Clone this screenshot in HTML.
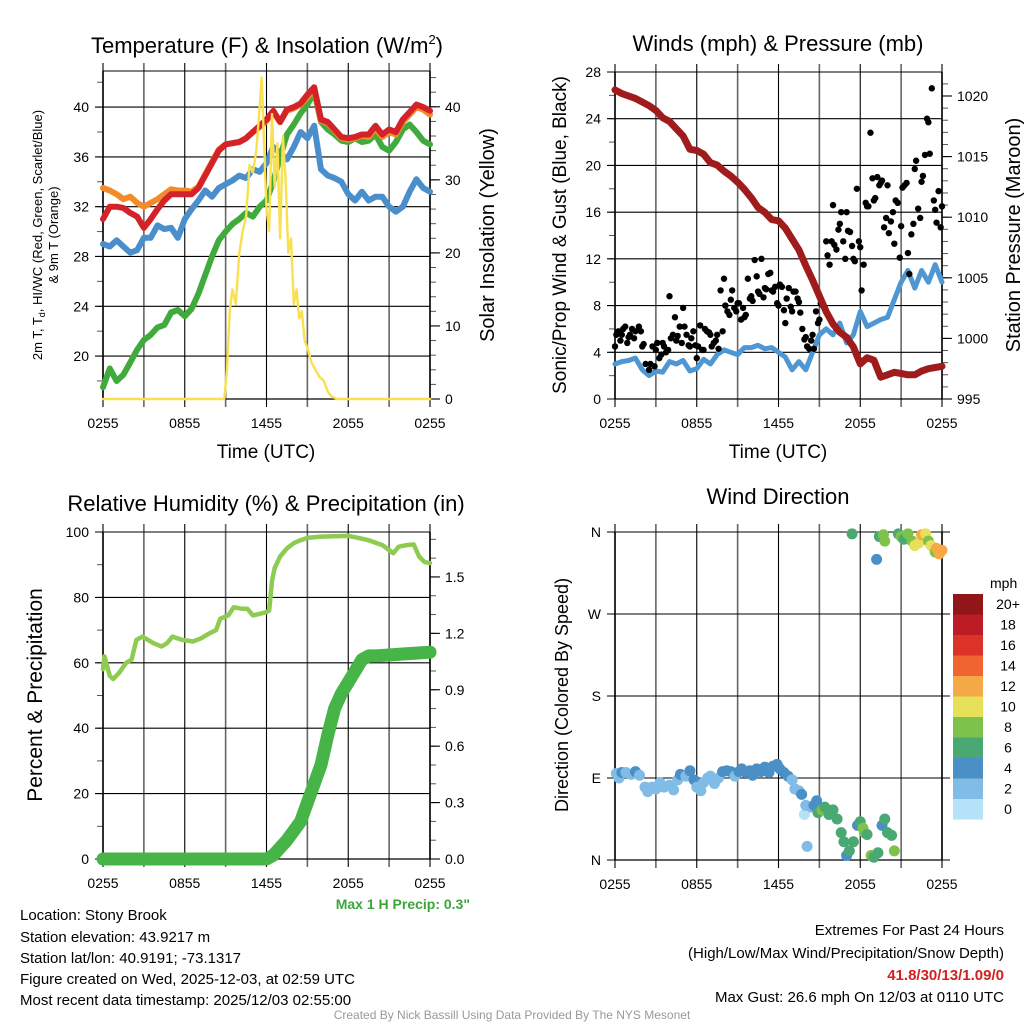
<!DOCTYPE html>
<html><head><meta charset="utf-8"><style>
body{margin:0;background:#fff;}
svg{display:block;font-family:"Liberation Sans",sans-serif;}
</style></head><body>
<svg id="root" width="1024" height="1024" viewBox="0 0 1024 1024">
<rect width="1024" height="1024" fill="#fff"/>
<text x="267" y="53" font-size="22" text-anchor="middle">Temperature (F) &amp; Insolation (W/m<tspan font-size="13" dy="-9">2</tspan><tspan dy="9">)</tspan></text>
<text x="778" y="51" font-size="22" text-anchor="middle">Winds (mph) &amp; Pressure (mb)</text>
<text x="266" y="511" font-size="22" text-anchor="middle">Relative Humidity (%) &amp; Precipitation (in)</text>
<text x="778" y="504" font-size="22" text-anchor="middle">Wind Direction</text>
<text x="266" y="458" font-size="19" text-anchor="middle">Time (UTC)</text>
<text x="778" y="458" font-size="19" text-anchor="middle">Time (UTC)</text>
<text transform="translate(42,235) rotate(-90)" font-size="13" text-anchor="middle">2m T, T<tspan font-size="9" dy="3">d</tspan><tspan dy="-3">, HI/WC (Red, Green, Scarlet/Blue)</tspan></text>
<text transform="translate(58,235) rotate(-90)" font-size="13" text-anchor="middle">&amp; 9m T (Orange)</text>
<text transform="translate(494,235) rotate(-90)" font-size="20" text-anchor="middle">Solar Insolation (Yellow)</text>
<text transform="translate(566,235) rotate(-90)" font-size="19" text-anchor="middle">Sonic/Prop Wind &amp; Gust (Blue, Black)</text>
<text transform="translate(1020,235) rotate(-90)" font-size="20" text-anchor="middle">Station Pressure (Maroon)</text>
<text transform="translate(42,695) rotate(-90)" font-size="21" text-anchor="middle">Percent &amp; Precipitation</text>
<text transform="translate(568,695) rotate(-90)" font-size="18" text-anchor="middle">Direction (Colored By Speed)</text>
<text x="470" y="909" font-size="14" font-weight="bold" fill="#3aa63a" text-anchor="end">Max 1 H Precip: 0.3"</text>
<g font-size="15">
<text x="20" y="920">Location: Stony Brook</text>
<text x="20" y="942">Station elevation: 43.9217 m</text>
<text x="20" y="963">Station lat/lon: 40.9191; -73.1317</text>
<text x="20" y="984">Figure created on Wed, 2025-12-03, at 02:59 UTC</text>
<text x="20" y="1005">Most recent data timestamp: 2025/12/03 02:55:00</text>
</g>
<g font-size="15" text-anchor="end">
<text x="1004" y="935">Extremes For Past 24 Hours</text>
<text x="1004" y="958">(High/Low/Max Wind/Precipitation/Snow Depth)</text>
<text x="1004" y="980" font-weight="bold" fill="#d42020">41.8/30/13/1.09/0</text>
<text x="1004" y="1002">Max Gust: 26.6 mph On 12/03 at 0110 UTC</text>
</g>
<text x="512" y="1019" font-size="12" fill="#999" text-anchor="middle">Created By Nick Bassill Using Data Provided By The NYS Mesonet</text>
</svg>
<script>
// ---- data ----
const hoursHalf=[0,0.5,1,1.5,2,2.5,3,3.5,4,4.5,5,5.5,6,6.5,7,7.5,8,8.5,9,9.5,10,10.5,11,11.5,12,12.5,13,13.5,14,14.5,15,15.5,16,16.5,17,17.5,18,18.5,19,19.5,20,20.5,21,21.5,22,22.5,23,23.5,24];
const tempRed=[31,32,32,31.9,31.5,31.2,30.3,31,31.8,32.5,33,33,33,33,33.5,34.5,35.5,36.5,37,37.1,37.2,37.5,38,38.5,39,39.7,38.8,39.8,40,40.3,41,41.6,39,38.8,38.2,37.6,37.5,37.6,37.8,37.8,38.5,37.8,38.2,38,39,39.6,40.2,40,39.7];
const tempOrange=[33.5,33.3,33,32.6,32.8,32.3,32,32.3,32.6,33,33.4,33.3,33.3,33.2,33.6,34.6,35.6,36.6,37,37.1,37.2,37.5,38,38.4,38.9,39.6,38.8,39.7,39.9,40.2,40.8,41.4,38.9,38.7,38.1,37.5,37.4,37.5,37.7,37.6,38.3,37.6,38,37.8,38.8,39.4,40,39.8,39.4];
const tempDew=[17.5,19,18,18.5,19.5,20.5,21.3,21.7,22.3,22.5,23.5,23.7,23.2,23.8,25,26.5,28,29.3,30,30.6,31,31.5,31.2,32,32.5,34,36,37.8,38.6,39.5,40.2,41.2,38.8,38.2,37.8,37.3,37.2,37.5,37.2,37.3,37.8,36.8,36.5,37.2,38.2,38.6,38,37.3,37];
const tempBlue=[29,28.8,29.3,28.8,28.3,28.5,29.5,29.5,30.5,30.2,30.3,29.5,31,31.8,32.5,33.3,32.8,33.5,33.8,34.1,34.5,34.3,35,34.8,35.5,36.8,36.3,35.8,36.8,38,37.5,38.5,35,34.5,34.3,34,33,32.5,33.2,32.5,32.8,32.8,32,31.6,32,33.2,34.2,33.5,33.2];
const solarHours=[0,8.9,9.1,9.3,9.5,9.75,10,10.25,10.5,10.75,11,11.25,11.5,11.65,11.8,12,12.2,12.4,12.6,12.8,13,13.2,13.4,13.6,13.8,14,14.2,14.4,14.6,14.8,15,15.3,15.6,15.9,16.2,16.5,16.8,17.2,24];
const solarVals=[0,0,4,12,15,13,20,23,25,32,31,34,40,44,36,26,23,39,29,35,22,36,30,20,22,13,15,11,12,8,7,5,4,3,2.5,1,0.3,0,0];
const pressure=[1020.5,1020.2,1020,1019.8,1019.5,1019.2,1018.8,1018.2,1017.9,1017.3,1016.7,1015.6,1015.5,1015.2,1014.5,1014.3,1013.8,1013.4,1012.9,1012.3,1011.6,1010.8,1010.4,1009.8,1009.7,1009.1,1008.2,1007.3,1006,1004.8,1003.5,1002.2,1001.2,1000.5,1000.1,999.3,997.9,998.4,998.2,996.8,997,997.2,997.1,997,997,997.3,997.5,997.6,997.7];
const windSpeed=[3,3.2,3.3,3.5,2.5,2,2.4,2.3,3.2,3,3.3,2.4,2.6,3.4,3,3.8,4.2,4,3.8,4.4,4.4,4.6,4.3,4.4,4,3.6,2.5,3.2,2.5,4,5.5,6,5.5,6.5,4.8,5.5,7.5,6.2,6.5,6.8,7,8.5,10,11,9.5,11,10,11.5,10];
const gustHours=[0,0.25,0.5,0.75,1,1.25,1.5,1.75,2,2.25,2.5,2.75,3,3.25,3.5,3.75,4,4.25,4.5,4.75,5,5.25,5.5,5.75,6,6.25,6.5,6.75,7,7.25,7.5,7.75,8,8.25,8.5,8.75,9,9.25,9.5,9.75,10,10.25,10.5,10.75,11,11.25,11.5,11.75,12,12.25,12.5,12.75,13,13.25,13.5,13.75,14,14.25,14.5,14.75,15,15.25,15.5,15.75,16,16.25,16.5,16.75,17,17.25,17.5,17.75,18,18.25,18.5,18.75,19,19.25,19.5,19.75,20,20.25,20.5,20.75,21,21.25,21.5,21.75,22,22.25,22.5,22.75,23,23.25,23.5,23.75,24];
const gustVals=[4.5,5.8,5.5,6.2,5.3,6,5.8,6.2,4.5,3,2.5,4.5,4.2,3.5,4.8,4,8.8,5.5,5,6.2,7.8,5.5,4.5,5.8,3.5,6.3,4.2,5.8,5.5,4.8,5.5,9.3,10.3,7.5,8.5,7.8,8.2,6.8,7,10.3,8.8,11.9,9.2,12,9.5,10.7,9.3,9.6,8,9.6,6.5,9.5,7.5,9.2,8.3,6,5.3,4.3,5.5,7.5,6.8,8,13.5,11.5,16.6,12.8,15,13.5,16,14.3,12,18,13,11.5,16.5,22.8,17,19,18.5,14.7,18.3,15.2,13.3,16.8,14.8,18.3,12.5,14.1,19.7,16.3,18.6,20.9,23.7,26.6,16.2,17.8,16.5];
const gustHours2=[0.1,0.4,0.6,0.9,1.1,1.4,1.9,2.1,2.6,2.9,3.1,3.4,3.6,3.9,4.1,4.4,4.6,4.9,5.1,5.4,5.6,5.9,6.1,6.4,6.6,6.9,7.1,7.4,7.6,7.9,8.1,8.4,8.6,8.9,9.1,9.4,9.6,9.9,10.1,10.4,10.6,10.9,11.1,11.4,11.6,11.9,12.1,12.4,12.6,12.9,13.1,13.4,13.6,13.9,14.1,14.4,14.6,14.9,15.1,15.4,15.6,15.9,16.1,16.4,16.6,16.9,17.1,17.4,17.6,17.9,18.1,18.4,18.6,18.9,19.1,19.4,19.6,19.9,20.1,20.4,20.6,20.9,21.1,21.4,21.6,21.9,22.1,22.4,22.6,22.9,23.1,23.4,23.6,23.9];
const gustVals2=[5.5,5,6,4.8,5.5,5.2,5.8,4.7,3,2.8,4.8,3.8,4.5,4.2,5.2,7,5.4,4.8,6.2,4.6,5.2,4.6,4.5,4.2,6,5.7,4.5,5,4.3,5.8,8,7.2,9.3,7.5,8.2,7.8,7.2,8.6,8.4,10.5,9,8.7,9.4,10.8,9.2,8.2,9.8,7.6,8.6,7.9,9.2,8.6,7.4,5.1,4.5,5,4.3,6.5,8.2,7.8,12.3,13.5,13.2,14.5,16,12,14.4,13.1,11.8,13.5,9.3,16.8,16.5,18.9,17.2,18.3,18.7,15.5,14.2,16,17,12.1,18.1,18.5,10.7,15,20.4,15.5,19.1,24,21,17,15.1,14.7];
const rhHours=[0,0.1,0.5,0.75,1.2,1.7,2.1,2.45,2.9,3.3,3.7,4.3,4.7,5.1,5.8,6.6,7.2,7.8,8.3,8.6,9.2,9.6,10.2,10.6,11,11.5,12,12.2,12.4,12.6,13,13.5,14,14.5,15,16,17,18,18.5,19.5,20.5,21,21.3,21.7,22.3,22.8,23.2,23.6,24];
const rhVals=[58,62,56,55,57,60,61,67,68,67,66,65,66,68,67,66.5,67.5,69,70,73.5,74.5,77,76.5,76.5,74.5,75,75.5,76,85,89,92.5,95,96.6,97.5,98.2,98.6,98.7,98.8,98.4,97.5,96,94.5,93.5,95.5,96,96.2,92.5,90.8,90.5];
const precipHours=[0,12,12.5,13,13.5,14,14.5,15,15.5,16,16.5,17,17.5,18,18.5,19,19.5,20,21,22,23,24];
const precipVals=[0,0,0.02,0.06,0.1,0.15,0.2,0.3,0.4,0.5,0.66,0.8,0.88,0.94,1.0,1.06,1.08,1.08,1.085,1.09,1.095,1.1];
const dirHours=[0.1,0.3,0.5,0.8,1.2,1.5,1.8,2.2,2.4,2.7,3,3.3,3.6,4,4.3,4.6,4.8,5.2,5.5,5.8,6,6.3,6.5,6.8,7,7.3,7.6,7.9,8.2,8.5,8.8,9.1,9.3,9.6,9.9,10.1,10.4,10.7,11,11.3,11.6,11.9,12.1,12.4,12.7,13,13.2,13.5,13.7,13.9,14,14.1,14.4,14.6,14.8,14.9,15.2,15.4,15.7,16,16.3,16.6,16.8,17,17.2,17.5,17.8,18,18.2,18.3,18.5,18.8,19,19.3,19.6,19.8,20,20.3,20.5,17.4,19.2,19.4,19.7,19.8,20.8,21,21.2,21.5,21.8,22,22.3,22.5,22.8,23,23.2,23.5,23.8,24,23.6];
const dirVals=[95,90,96,96,94,97,93,80,75,80,78,85,80,82,77,88,94,92,98,88,80,76,85,90,92,84,90,97,98,97,92,97,100,96,98,93,100,97,102,96,103,105,100,96,92,88,78,76,72,50,60,15,58,60,65,52,55,58,50,55,45,30,20,5,10,20,38,42,35,30,28,5,3,8,38,45,30,27,10,358,330,355,357,350,358,355,352,358,350,345,348,357,358,350,345,338,336,340,342];
const dirSpeeds=[3,3,4,3,3,4,3,2,2,2,2,2,2,3,2,3,4,3,4,4,2,2,3,2,3,2,3,4,4,4,3,4,4,4,4,4,4,4,4,4,4,4,4,4,4,3,2,2,4,0,2,2,2,4,4,6,8,6,6,7,6,6,6,4,6,6,4,6,8,8,6,8,6,6,4,6,6,6,8,6,4,6,8,8,6,8,6,8,8,10,10,12,10,8,10,8,12,12,12];
const speedLabels=["0","2","4","6","8","10","12","14","16","18","20+"];
const speedColors=["#b5e2f8","#80bce6","#4a8fc6","#4aa872","#7dc24b","#e6e05a","#f5a846","#ef6431","#dc3328","#bb1c25","#90161a"];
const xLabels=["0255","0855","1455","2055","0255"];

// ---- helpers ----
const NS="http://www.w3.org/2000/svg";
const root=document.getElementById('root');
function mk(tag,attrs,parent){const e=document.createElementNS(NS,tag);for(const k in attrs)e.setAttribute(k,attrs[k]);(parent||root).appendChild(e);return e;}
function scale(d0,d1,r0,r1){return v=>r0+(v-d0)*(r1-r0)/(d1-d0);}
function pathD(xs,ys,fx,fy){return xs.map((h,i)=>(i?'L':'M')+fx(h).toFixed(1)+','+fy(ys[i]).toFixed(1)).join('');}

function frame(p){
  const g=mk('g',{});
  
  
  const fx=scale(0,24,p.x0,p.x1);
  for(let h=0;h<=24;h+=3){
    const x=fx(h);
    const ln=mk('line',{x1:x,x2:x,y1:p.y0-8,y2:p.y1+8,stroke:(h%6===3)?'#666':'#000','stroke-width':(h%6===3)?1.6:1.1},g);
    
    
    if(h%6===0){
      const t=mk('text',{x:x,y:p.y1+29,'font-size':14,'text-anchor':'middle'},g);
      t.textContent=xLabels[h/6];
      
      
    }
  }
  const fl=scale(p.l0,p.l1,p.y1,p.y0);
  for(let v=p.lminStart;v<=p.l1+1e-9;v+=p.lminor){
    const y=fl(v); mk('line',{x1:p.x0-6,x2:p.x0,y1:y,y2:y,stroke:'#555','stroke-width':1},g);
  }
  p.lmajor.forEach((v,i)=>{
    const y=fl(v);
    const ln=mk('line',{x1:p.x0-8,x2:p.x1+(p.rightGrid||0),y1:y,y2:y,stroke:'#000','stroke-width':1.1},g);
    
    
    const t=mk('text',{x:p.x0-14,y:y+5,'font-size':14,'text-anchor':'end'},g);
    t.textContent=p.llabels?p.llabels[i]:v;
    
    
  });
  if(p.rmajor){
    const fr=scale(p.r0,p.r1,p.y1,p.y0);
    for(let v=p.rminStart;v<=p.r1+1e-9;v+=p.rminor){
      const y=fr(v); mk('line',{x1:p.x1,x2:p.x1+6,y1:y,y2:y,stroke:'#555','stroke-width':1},g);
    }
    p.rmajor.forEach(v=>{
      const y=fr(v);
      mk('line',{x1:p.x1,x2:p.x1+10,y1:y,y2:y,stroke:'#000','stroke-width':1.1},g);
      const t=mk('text',{x:p.x1+15,y:y+5,'font-size':14},g);
      t.textContent=p.rfmt?p.rfmt(v):v;
      
      
    });
  }
  mk('line',{x1:p.x0,x2:p.x1,y1:p.y0,y2:p.y0,stroke:'#000','stroke-width':1},g);
  mk('line',{x1:p.x0,x2:p.x1,y1:p.y1,y2:p.y1,stroke:'#000','stroke-width':1.2},g);
  mk('line',{x1:p.x0,x2:p.x0,y1:p.y0,y2:p.y1,stroke:'#000','stroke-width':1.6},g);
  mk('line',{x1:p.x1,x2:p.x1,y1:p.y0,y2:p.y1,stroke:'#000','stroke-width':1.6},g);
  return fx;
}
function line(xs,ys,fx,fy,color,w,name){
  const e=mk('path',{d:pathD(xs,ys,fx,fy),fill:'none',stroke:color,'stroke-width':w,'stroke-linejoin':'round','stroke-linecap':'round'});
  
  
}

// ---- panel 1: temperature ----
const p1={name:'temperature',x0:103,x1:430,y0:71,y1:399,l0:16.55,l1:42.9,lmajor:[20,24,28,32,36,40],lminor:2,lminStart:18,r0:0,r1:44.9,rmajor:[0,10,20,30,40],rminor:2,rminStart:0};
const fx1=frame(p1);
const ft1=scale(p1.l0,p1.l1,p1.y1,p1.y0), fs1=scale(p1.r0,p1.r1,p1.y1,p1.y0);
line(hoursHalf,tempBlue,fx1,ft1,'#4a8fcc',6,'wind-chill-line');
line(hoursHalf,tempDew,fx1,ft1,'#40ab3c',6,'dewpoint-line');
line(hoursHalf,tempOrange,fx1,ft1,'#f58a2a',6,'9m-temperature-line');
line(hoursHalf,tempRed,fx1,ft1,'#d42328',6,'2m-temperature-line');
line(solarHours,solarVals,fx1,fs1,'#f8e050',2.4,'solar-insolation-line');

// ---- panel 2: winds ----
const p2={name:'winds',x0:615,x1:942,y0:72,y1:399,l0:0,l1:28,lmajor:[0,4,8,12,16,20,24,28],lminor:2,lminStart:0,r0:995,r1:1021.98,rmajor:[995,1000,1005,1010,1015,1020],rminor:1,rminStart:995};
const fx2=frame(p2);
const fw2=scale(p2.l0,p2.l1,p2.y1,p2.y0), fp2=scale(p2.r0,p2.r1,p2.y1,p2.y0);
line(hoursHalf,windSpeed,fx2,fw2,'#4f97d2',5,'wind-speed-line');
gustHours.forEach((h,i)=>{
  const c=mk('circle',{cx:fx2(h),cy:fw2(gustVals[i]),r:3.2,fill:'#000'});
  
  
});
gustHours2.forEach((h,i)=>{
  const c=mk('circle',{cx:fx2(h),cy:fw2(gustVals2[i]),r:3.2,fill:'#000'});
  
  
});
line(hoursHalf,pressure,fx2,fp2,'#a01c1c',7,'pressure-line');

// ---- panel 3: humidity ----
const p3={name:'humidity',x0:103,x1:430,y0:532,y1:859,l0:0,l1:100,lmajor:[0,20,40,60,80,100],lminor:10,lminStart:0,r0:0,r1:1.739,rmajor:[0,0.3,0.6,0.9,1.2,1.5],rminor:0.1,rminStart:0,rfmt:v=>v.toFixed(1)};
const fx3=frame(p3);
const fh3=scale(0,100,p3.y1,p3.y0), fr3=scale(p3.r0,p3.r1,p3.y1,p3.y0);
line(rhHours,rhVals,fx3,fh3,'#8ecb52',4.5,'relative-humidity-line');
line(precipHours,precipVals,fx3,fr3,'#46b446',13,'precipitation-line');

// ---- panel 4: wind direction ----
const p4={name:'wind-direction',x0:615,x1:942,y0:532,y1:860,l0:0,l1:360,lmajor:[0,90,180,270,360],llabels:['N','E','S','W','N'],lminor:1000,lminStart:1000,rightGrid:8};
const fx4=frame(p4);
const fd4=scale(0,360,p4.y1,p4.y0);
dirHours.forEach((h,i)=>{
  const idx=Math.min(10,Math.floor(dirSpeeds[i]/2));
  const c=mk('circle',{cx:fx4(h),cy:fd4(dirVals[i]),r:5.5,fill:speedColors[idx]});
  
  
});
// colorbar
const cb=mk('g',{});


const cbt=mk('text',{x:990,y:588,'font-size':14},cb);
cbt.textContent='mph';
speedLabels.forEach((lab,i)=>{
  const y=799-i*20.5;
  const r=mk('rect',{x:953,y:y,width:30,height:20.5,fill:speedColors[i]},cb);
  
  
  const t=mk('text',{x:1008,y:y+15,'font-size':14,'text-anchor':'middle'},cb);
  t.textContent=lab;
  
  
});
</script>
</body></html>
